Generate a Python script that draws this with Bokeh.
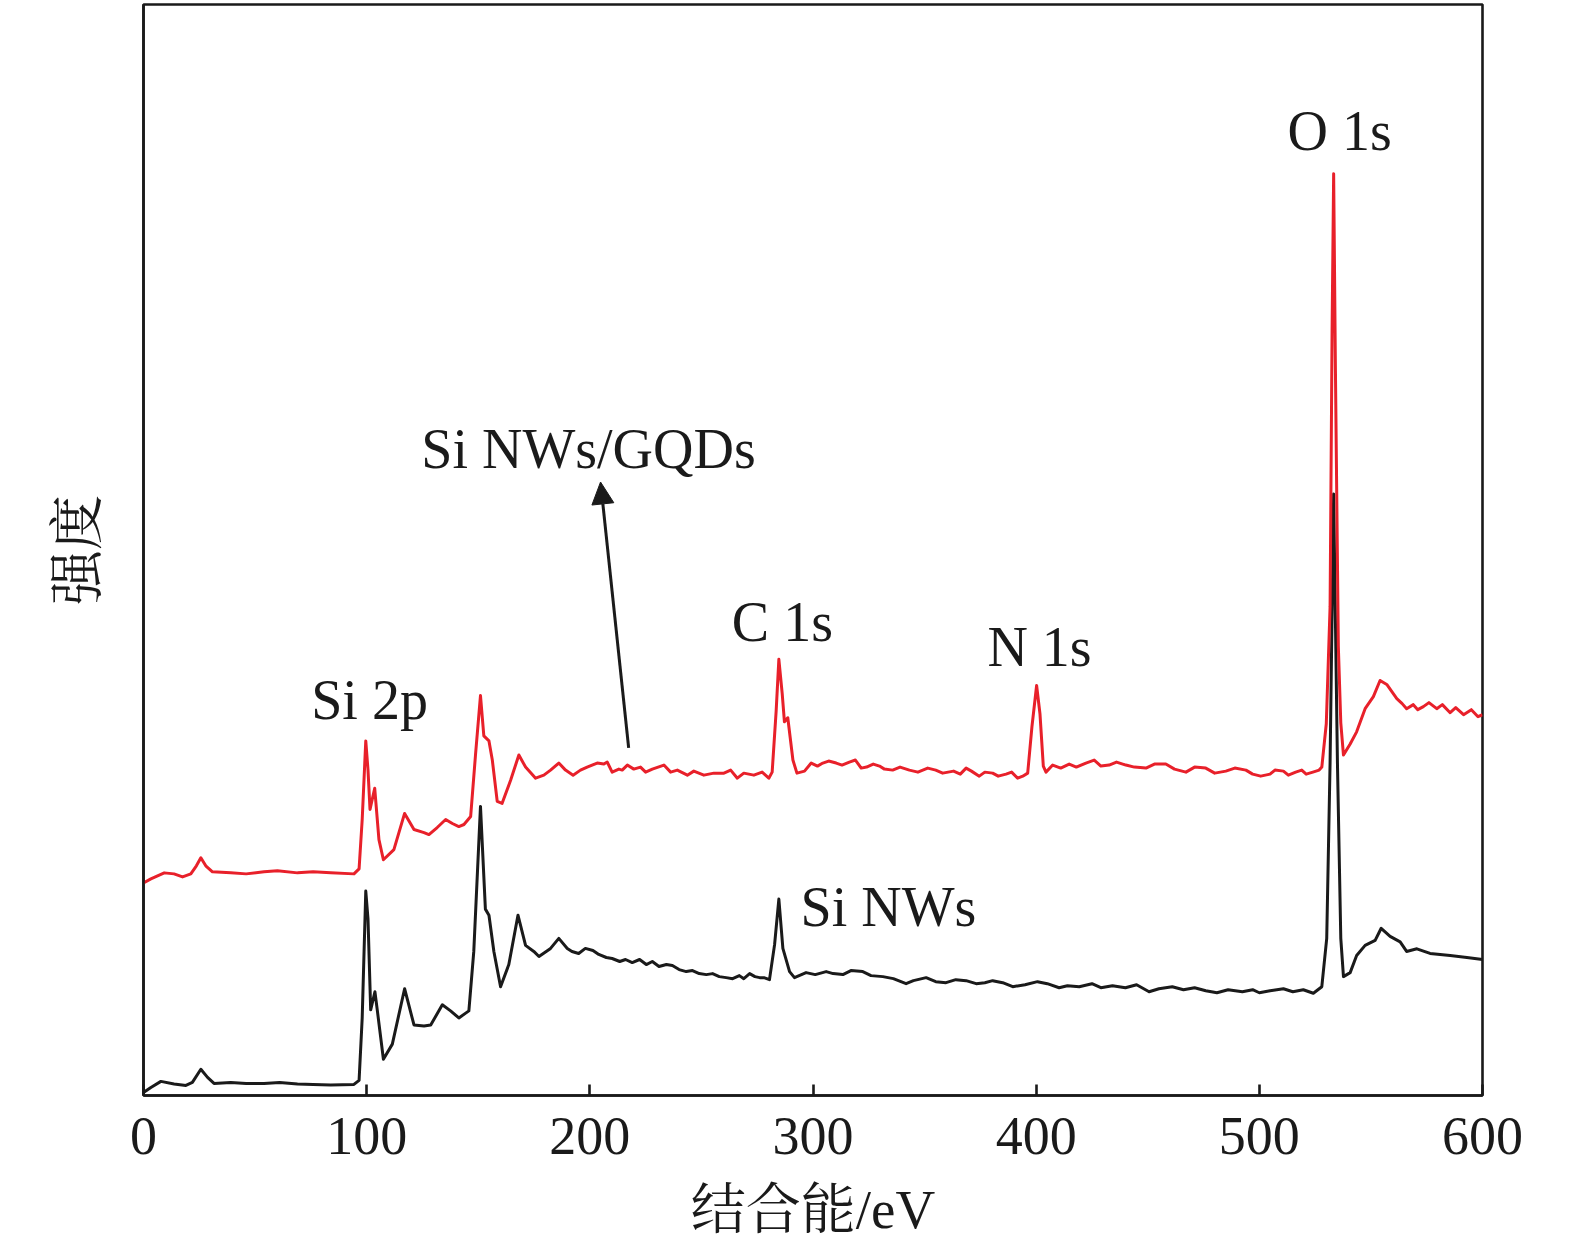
from bokeh.plotting import figure
from bokeh.models import Range1d, FixedTicker, Arrow, NormalHead, Label
from bokeh.embed import file_html
from bokeh.resources import INLINE

# ---- data: (binding energy / eV, intensity / a.u.) ----
red_points = [
    (0, 211), (3.3, 215), (9.3, 221), (13.7, 220), (17.5, 217), (21.2, 220),
    (23.7, 228), (25.7, 236), (27.9, 228), (30.9, 222), (39.1, 221), (46, 220),
    (54, 222), (60, 223), (69, 221), (76, 222), (83.9, 221), (94.3, 220),
    (96.6, 225), (98, 274), (99.6, 352), (100.6, 323), (101.5, 284), (103.6, 305),
    (105.5, 254), (107.5, 234), (112.2, 244), (117, 280), (121.2, 264), (125.7, 261),
    (127.9, 259), (131.6, 266), (135.4, 274), (138.4, 270), (141.3, 267), (143.6, 269),
    (146.6, 277), (148.8, 339), (151, 397), (152.5, 357), (154.8, 352), (156.3, 333),
    (158.5, 292), (160.7, 290), (164.5, 313), (168.2, 338), (171.2, 326), (175.7, 315),
    (179.4, 318), (182.4, 323), (186.1, 330), (189.1, 323), (192.5, 318), (195.8, 323),
    (198.8, 326), (203.3, 330), (206.3, 329), (207.8, 331), (210, 321), (213, 324),
    (214.5, 323), (216.8, 328), (219.7, 324), (222.7, 326), (225, 321), (228, 324),
    (233.2, 328), (236.2, 321), (239.2, 323), (243.7, 318), (246.6, 322), (251.1, 318),
    (255.6, 320), (260.1, 320), (263.1, 323), (266.1, 315), (269, 320), (273.5, 318),
    (277.2, 321), (280.2, 315), (281.7, 321), (283.5, 382), (284.7, 433), (286.2, 399),
    (287.2, 371), (288.7, 375), (291, 333), (292.8, 320), (296.2, 322), (299.2, 330),
    (302, 327), (304.4, 330), (307, 332), (310.4, 330), (313, 328), (316.3, 331),
    (319, 333), (321.6, 325), (324, 326), (327, 329), (329.8, 327), (332, 324),
    (335.7, 323), (339, 326), (343.2, 323), (347, 321), (351.4, 325), (355, 323),
    (358.1, 320), (363, 322), (366, 319), (368.6, 325), (371, 322), (374.5, 317),
    (377, 321), (380.5, 320), (383, 317), (386.5, 319), (389, 321), (391.7, 315),
    (394, 317), (396.2, 320), (398.1, 366), (400.2, 407), (401.7, 379), (403.2, 327),
    (404.4, 321), (407.4, 328), (411, 325), (414.8, 329), (418, 326), (422.3, 330),
    (426, 333), (429, 327), (432.7, 328), (436, 331), (440.2, 328), (444, 326),
    (449.2, 325), (453, 329), (458.1, 329), (462, 324), (467.1, 321), (471, 326),
    (476, 325), (480, 320), (485, 322), (489, 325), (494, 323), (497, 319),
    (500.6, 317), (504.8, 319), (507, 323), (510.8, 322), (513, 318), (516.3, 321),
    (519, 323), (521, 319), (524, 321), (526.8, 323), (528, 326), (530, 369),
    (531.7, 485), (532.6, 760), (533.3, 915), (534.1, 720), (535.4, 446), (536.5, 370),
    (537.7, 338), (540.7, 349), (543.6, 361), (547.4, 384), (551.1, 396), (554.1, 412),
    (557.1, 408), (561.6, 394), (564, 389), (566, 384), (569, 388), (571, 383),
    (573.5, 386), (576, 390), (579.5, 384), (582, 388), (585.5, 380), (588, 385),
    (591.5, 378), (595, 383), (598, 376), (600, 378),
]

black_points = [
    (0, 3), (3.3, 8), (7.8, 14), (13.7, 11.5), (19, 10), (21.9, 13), (25.7, 26),
    (28.7, 18), (31.6, 12), (39.1, 13), (46, 12), (54, 12), (61, 13), (69, 11.5),
    (76, 11), (83.9, 10.5), (94.3, 11), (96.6, 15), (98, 77), (99.6, 203),
    (100.6, 175), (101.8, 85), (103.7, 103), (104.8, 84), (107.5, 36), (111.5, 51),
    (117, 106), (121.2, 70), (125.7, 69), (128.7, 70), (133.9, 90), (137.6, 84),
    (141.3, 77), (145.8, 84), (148, 143), (151, 287), (153.2, 185), (154.8, 179),
    (157, 143), (160, 108), (163.7, 130), (167.8, 179), (171.2, 149), (174.9, 143),
    (177.2, 138), (182.4, 146), (186.1, 156), (189.9, 146), (192, 143), (195, 141),
    (198, 146), (201.4, 144), (204, 140), (207.4, 137), (210, 136), (213.4, 133),
    (216, 135), (219, 132), (222.3, 135), (225.3, 130), (228, 133), (231, 128),
    (234.3, 130), (237, 129), (240, 125), (243.2, 123), (246, 124), (249, 121),
    (252.2, 120), (255, 121), (258, 118), (261.1, 117), (264, 116), (267, 119),
    (269, 116), (271.6, 121), (274, 118), (276.1, 117), (278, 117), (280.5, 115),
    (282.8, 150), (284.7, 195), (286.5, 146), (289.5, 123), (291.7, 117), (296.9, 122),
    (301, 120), (305.9, 123), (309, 121), (313.4, 120), (317, 124), (322.3, 123),
    (326, 119), (331.3, 118), (336, 116), (341.7, 111), (345, 114), (350.7, 117),
    (355, 113), (359.6, 112), (364, 115), (368.6, 114), (373.1, 111), (377, 112),
    (380.5, 114), (385, 112), (389.5, 108), (395, 110), (400.6, 113), (405, 111),
    (410.3, 107), (414, 109), (419.3, 108), (425, 111), (429, 107), (434.2, 109),
    (440, 107), (445, 110), (450.6, 103), (455, 106), (461, 108), (466, 105),
    (471, 107), (476, 104), (481, 102), (486, 105), (492.4, 103), (497, 105),
    (500, 102), (504.8, 104), (510.8, 106), (515, 103), (519.7, 105), (524.2, 101.5),
    (528, 108), (530.2, 156), (531.7, 330), (533.3, 597), (535, 330), (536.5, 156),
    (537.7, 118), (540.7, 122), (543.6, 139), (547.4, 149), (551.9, 154), (554.6, 166),
    (558.6, 158), (563.1, 152.5), (566, 143), (570.6, 145.6), (576.5, 141), (585.5, 139),
    (593, 137), (600, 135),
]

x_ticks = [0, 100, 200, 300, 400, 500, 600]

peak_texts = ["O 1s", "C 1s", "N 1s", "Si 2p", "Si NWs/GQDs"]
peak_x = [536, 286.3, 401.5, 101.3, 199.4]
peak_y = [957, 470, 445, 393, 642]

sample_text = "Si NWs"
sample_x, sample_y = 294.4, 187

arrow_start = (217.4, 345)
arrow_end = (204.8, 609)

red_ev = [pt[0] for pt in red_points]
red_int = [pt[1] for pt in red_points]
black_ev = [pt[0] for pt in black_points]
black_int = [pt[1] for pt in black_points]

SERIF = "Liberation Serif"
CJK = "Liberation Serif, Noto Serif CJK SC, Noto Sans CJK SC"
INK = "#1a1a1a"

p = figure(width=1527, height=1244, output_backend="svg", toolbar_location=None,
           x_range=Range1d(0, 600), y_range=Range1d(0, 1083),
           min_border_left=143, min_border_right=45,
           min_border_top=4, min_border_bottom=149)
p.background_fill_color = "white"
p.border_fill_color = "white"
p.grid.visible = False
p.outline_line_color = INK
p.outline_line_width = 2.6
p.outline_line_alpha = 1.0

p.line(black_ev, black_int, line_color=INK, line_width=3, line_join="round")
p.line(red_ev, red_int, line_color="#e8202a", line_width=3, line_join="round")

xa = p.xaxis[0]
xa.ticker = FixedTicker(ticks=x_ticks)
xa.major_tick_in = 11
xa.major_tick_out = 0
xa.major_tick_line_width = 2.6
xa.major_tick_line_color = INK
xa.minor_tick_line_color = None
xa.axis_line_width = 2.6
xa.axis_line_color = INK
xa.major_label_text_font = SERIF
xa.major_label_text_font_size = "54px"
xa.major_label_text_color = INK
xa.major_label_standoff = 22
xa.axis_label = "结合能/eV"
xa.axis_label_text_font = CJK
xa.axis_label_text_font_size = "55px"
xa.axis_label_text_font_style = "normal"
xa.axis_label_text_color = INK
xa.axis_label_standoff = 22

ya = p.yaxis[0]
ya.ticker = FixedTicker(ticks=[])
ya.major_tick_in = 0
ya.major_tick_out = 0
ya.minor_tick_line_color = None
ya.axis_line_width = 2.6
ya.axis_line_color = INK
ya.axis_label = "强度"
ya.axis_label_text_font = CJK
ya.axis_label_text_font_size = "55px"
ya.axis_label_text_font_style = "normal"
ya.axis_label_text_color = INK
ya.axis_label_standoff = 36

for t, x, y in zip(peak_texts, peak_x, peak_y):
    p.add_layout(Label(x=x, y=y, text=t, text_font=SERIF, text_font_size="56px",
                       text_color=INK, text_align="center",
                       text_baseline="alphabetic"))
p.add_layout(Label(x=sample_x, y=sample_y, text=sample_text, text_font=SERIF,
                   text_font_size="56px", text_color=INK, text_align="left",
                   text_baseline="alphabetic"))

p.add_layout(Arrow(end=NormalHead(size=22, fill_color=INK, line_color=INK),
                   x_start=arrow_start[0], y_start=arrow_start[1],
                   x_end=arrow_end[0], y_end=arrow_end[1],
                   line_width=3, line_color=INK))

open("out.html", "w").write(file_html(p, INLINE))
